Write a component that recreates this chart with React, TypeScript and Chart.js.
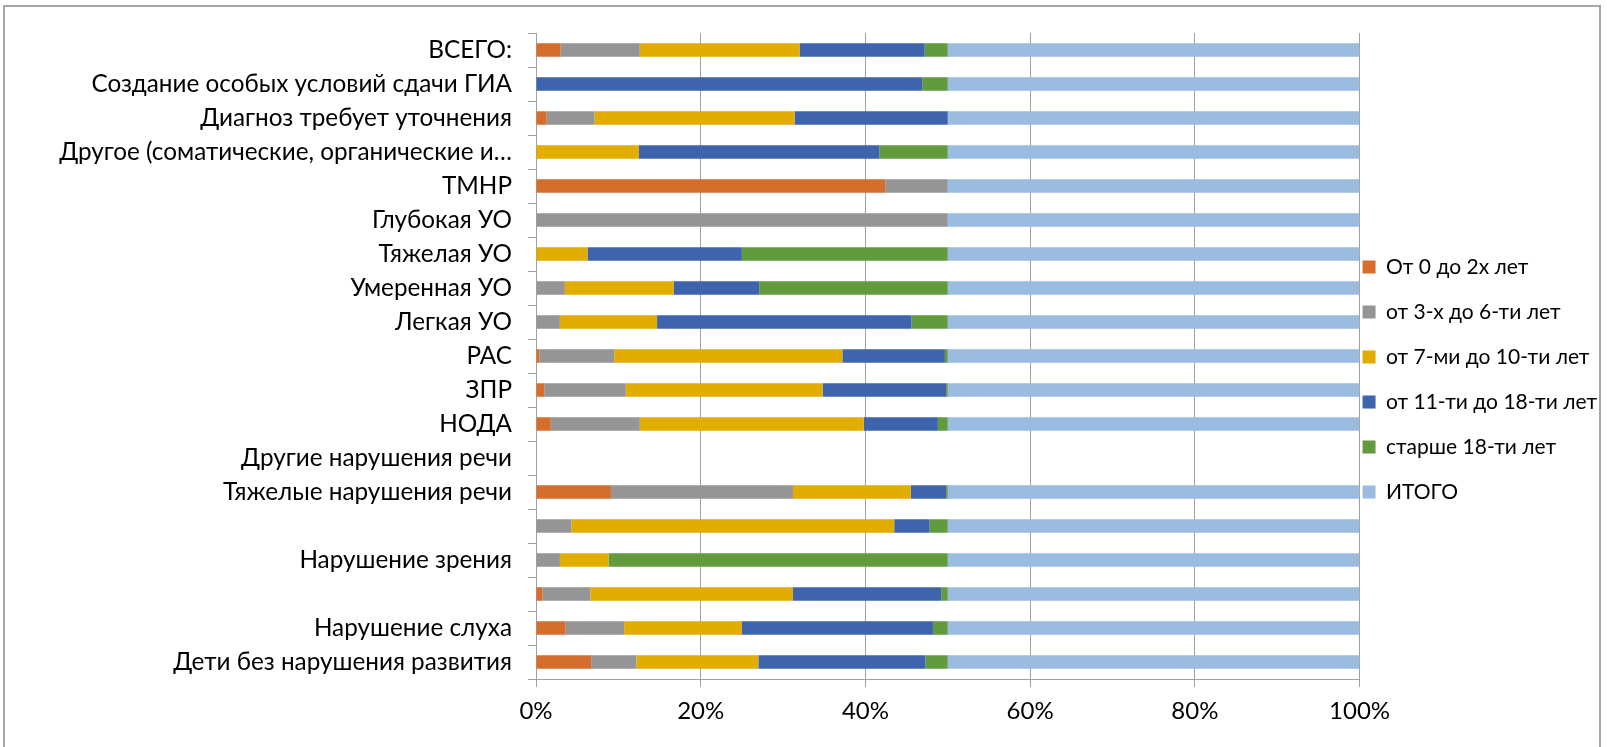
import React, { useEffect, useRef } from 'react';
import { Chart, registerables } from 'chart.js';

Chart.register(...registerables);

const categories = [
  'ВСЕГО:',
  'Создание особых условий сдачи ГИА',
  'Диагноз требует уточнения',
  'Другое (соматические, органические и…',
  'ТМНР',
  'Глубокая УО',
  'Тяжелая УО',
  'Умеренная УО',
  'Легкая УО',
  'РАС',
  'ЗПР',
  'НОДА',
  'Другие нарушения речи',
  'Тяжелые нарушения речи',
  '',
  'Нарушение зрения',
  '',
  'Нарушение слуха',
  'Дети без нарушения развития',
];

const age0to2 = [3.0, 0, 1.3, 0, 42.4, 0, 0, 0, 0, 0.4, 1.0, 1.8, 0, 9.1, 0, 0, 0.8, 3.6, 6.7];
const age3to6 = [9.6, 0, 5.8, 0, 7.6, 50, 0, 3.5, 2.9, 9.1, 9.9, 10.8, 0, 22.1, 4.3, 2.9, 5.8, 7.1, 5.5];
const age7to10 = [19.4, 0, 24.3, 12.5, 0, 0, 6.25, 13.2, 11.8, 27.7, 23.9, 27.2, 0, 14.3, 39.2, 5.9, 24.6, 14.3, 14.8];
const age11to18 = [15.2, 46.9, 18.6, 29.2, 0, 0, 18.75, 10.4, 30.9, 12.45, 15.0, 9.0, 0, 4.3, 4.3, 0, 18.0, 23.2, 20.3];
const over18 = [2.8, 3.1, 0, 8.3, 0, 0, 25, 22.9, 4.4, 0.35, 0.2, 1.2, 0, 0.2, 2.2, 41.2, 0.8, 1.8, 2.7];
const total = [50, 50, 50, 50, 50, 50, 50, 50, 50, 50, 50, 50, 0, 50, 50, 50, 50, 50, 50];

const seriesNames = [
  'От 0 до 2х лет',
  'от 3-х до 6-ти лет',
  'от 7-ми до 10-ти лет',
  'от 11-ти до 18-ти лет',
  'старше 18-ти лет',
  'ИТОГО',
];
const seriesColors = ['#D56E2D', '#959595', '#E2AC00', '#3D64AD', '#629A3E', '#9BBBE1'];
const xTicks = [0, 20, 40, 60, 80, 100];

const FONT = 'Lato';

export default function App() {
  const ref = useRef<HTMLCanvasElement | null>(null);
  useEffect(() => {
    if (!ref.current) return;
    const seriesData = [age0to2, age3to6, age7to10, age11to18, over18, total];
    const chart = new Chart(ref.current, {
      type: 'bar',
      data: {
        labels: categories,
        datasets: seriesData.map((d, i) => ({
          label: seriesNames[i],
          data: d,
          backgroundColor: seriesColors[i],
          borderWidth: 0,
          categoryPercentage: 1,
          barPercentage: 0.39,
        })),
      },
      options: {
        indexAxis: 'y',
        animation: false,
        responsive: true,
        maintainAspectRatio: false,
        layout: { padding: { top: 33, left: 0, right: 0, bottom: 0 } },
        plugins: {
          tooltip: { enabled: false },
          legend: {
            position: 'right',
            align: 'center',
            maxWidth: 249,
            maxHeight: 701,
            labels: {
              boxWidth: 13,
              boxHeight: 13,
              padding: 3,
              color: '#000',
              font: { family: FONT, size: 21, lineHeight: 42 / 21 },
              generateLabels: (c: any) =>
                c.data.datasets.map((ds: any, i: number) => ({
                  text: [ds.label],
                  fillStyle: ds.backgroundColor,
                  strokeStyle: ds.backgroundColor,
                  lineWidth: 0,
                  hidden: false,
                  datasetIndex: i,
                  fontColor: '#000',
                })),
            },
          },
        },
        scales: {
          x: {
            stacked: true,
            min: 0,
            max: 100,
            afterBuildTicks: (s: any) => {
              s.ticks = xTicks.map((v) => ({ value: v }));
            },
            afterFit: (s: any) => {
              s.height = 68;
            },
            ticks: {
              color: '#000',
              padding: 10,
              font: { family: FONT, size: 24 },
              callback: (v: any) => v + '%',
            },
            grid: { color: '#A0A0A0', lineWidth: 1, tickLength: 8 },
            border: { display: true, color: '#A0A0A0' },
          },
          y: {
            stacked: true,
            afterFit: (s: any) => {
              s.width = 536;
            },
            ticks: {
              color: '#000',
              padding: 16,
              autoSkip: false,
              font: { family: FONT, size: 24.3 },
            },
            grid: { drawOnChartArea: false, offset: true, color: '#A0A0A0', tickLength: 8 },
            border: { display: true, color: '#A0A0A0' },
          },
        },
      },
    });
    return () => chart.destroy();
  }, []);
  return (
    <div style={{ position: 'fixed', left: 0, top: 0, width: 1607, height: 747, background: '#fff' }}>
      <div
        style={{
          position: 'absolute',
          left: 3,
          top: 5,
          width: 1598,
          height: 760,
          borderLeft: '2px solid #A6A6A6',
          borderTop: '2px solid #A6A6A6',
          borderRight: '2px solid #A6A6A6',
          boxSizing: 'border-box',
        }}
      />
      <canvas ref={ref} style={{ position: 'absolute', left: 0, top: 0 }} />
    </div>
  );
}
